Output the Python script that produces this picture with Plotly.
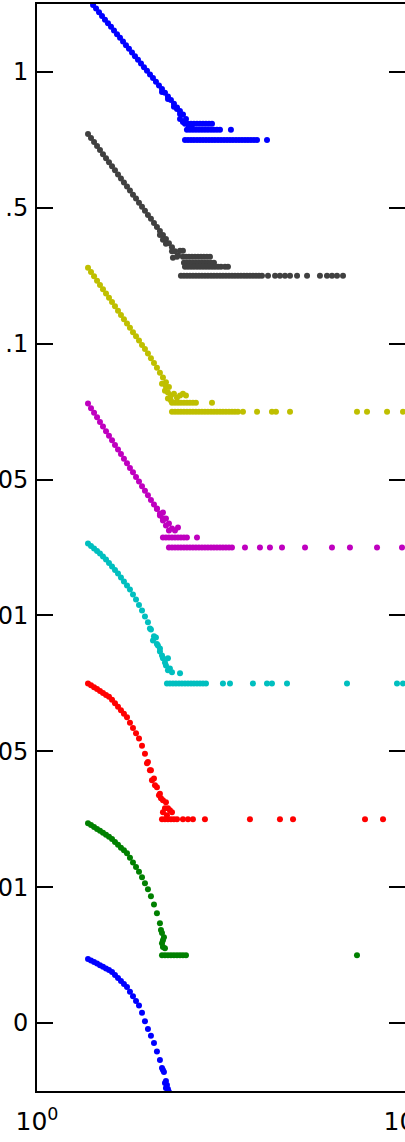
import plotly.graph_objects as go

# shared x sampling of the leading part of each curve
X_START = [1.376, 1.402, 1.429, 1.456, 1.483, 1.511, 1.540, 1.569, 1.599, 1.629,
           1.660, 1.691, 1.723, 1.756, 1.789, 1.823, 1.858, 1.893, 1.929, 1.965,
           2.002, 2.040, 2.079, 2.118, 2.158, 2.199, 2.241, 2.283, 2.327, 2.371, 2.416]

Y_TICKS = [0, 1, 2, 3, 4, 5, 6, 7]
Y_TICK_TEXT = ["0", "01", "05", "01", "05", ".1", ".5", "1"]
X_TICKS = [1, 10]
X_TICK_TEXT = ["10<sup>0</sup>", "10<sup>1</sup>"]

# ---- series 1 (blue, top)
s1_x = [1.420, 1.447, 1.474, 1.502, 1.530, 1.559, 1.589, 1.619, 1.650, 1.681, 1.713,
        1.745, 1.778, 1.812, 1.846, 1.881, 1.917, 1.953, 1.990, 2.028, 2.066, 2.105,
        2.145, 2.186, 2.227, 2.269, 2.312, 2.356, 2.401, 2.446, 2.493,
        2.186, 2.269, 2.356, 2.401, 2.447, 2.447, 2.492, 2.540, 2.588, 2.637]
s1_y = [7.493, 7.466, 7.439, 7.412, 7.385, 7.358, 7.332, 7.305, 7.278, 7.251, 7.224,
        7.197, 7.170, 7.143, 7.116, 7.089, 7.062, 7.035, 7.009, 6.982, 6.955, 6.928,
        6.901, 6.874, 6.847, 6.820, 6.793, 6.766, 6.739, 6.712, 6.686,
        6.853, 6.801, 6.743, 6.728, 6.691, 6.654, 6.632, 6.654, 6.596, 6.610]
s1_rows = {
    6.618: [2.524, 2.572, 2.621, 2.670, 2.721, 2.773, 2.825, 2.879, 2.933, 2.989],
    6.574: [2.555, 2.604, 2.653, 2.703, 2.755, 2.807, 2.860, 2.914, 2.970, 3.026,
            3.083, 3.142, 3.365],
    6.5: [2.524, 2.572, 2.621, 2.670, 2.721, 2.773, 2.825, 2.879, 2.933, 2.989, 3.045,
          3.103, 3.162, 3.222, 3.283, 3.345, 3.408, 3.473, 3.539, 3.606, 3.674, 3.743,
          3.814, 3.887, 3.962, 4.217],
}

# ---- series 2 (dark grey)
s2_y_start = [6.544, 6.514, 6.484, 6.455, 6.425, 6.395, 6.365, 6.336, 6.306, 6.276,
              6.246, 6.216, 6.187, 6.157, 6.127, 6.097, 6.068, 6.038, 6.008, 5.978,
              5.948, 5.919, 5.889, 5.859, 5.829, 5.800, 5.770, 5.740, 5.710, 5.680, 5.651]
s2_x_extra = [2.158, 2.199, 2.241, 2.327, 2.341, 2.401, 2.447, 2.492]
s2_y_extra = [5.800, 5.765, 5.735, 5.680, 5.632, 5.640, 5.684, 5.684]
s2_rows = {
    5.640: [2.492, 2.540, 2.588, 2.637, 2.687, 2.738, 2.790, 2.842, 2.896, 2.952],
    5.596: [2.508, 2.555, 2.604, 2.653, 2.703, 2.755, 2.807, 2.860, 2.914, 2.970, 3.026],
    5.566: [2.524, 2.572, 2.621, 2.670, 2.721, 2.773, 2.825, 2.879, 2.933, 2.989, 3.045,
            3.103, 3.162, 3.242, 3.303],
    5.5: [2.461, 2.508, 2.555, 2.604, 2.653, 2.703, 2.755, 2.807, 2.860, 2.914, 2.970,
          3.026, 3.083, 3.142, 3.201, 3.262, 3.324, 3.387, 3.451, 3.516, 3.583, 3.651,
          3.720, 3.790, 3.862, 3.935, 4.010, 4.086, 4.244, 4.436, 4.573, 4.720, 4.870,
          5.089, 5.418, 5.873, 6.137, 6.332, 6.535, 6.785],
}

# ---- series 3 (olive)
s3_y_start = [5.559, 5.527, 5.496, 5.464, 5.432, 5.401, 5.370, 5.338, 5.307, 5.275,
              5.243, 5.212, 5.180, 5.149, 5.117, 5.085, 5.054, 5.023, 4.991, 4.960,
              4.928, 4.893, 4.857, 4.822, 4.787, 4.751, 4.716, 4.681]
s3_x_extra = [2.186, 2.227, 2.241, 2.269, 2.269, 2.312, 2.312, 2.356, 2.401, 2.447, 2.492, 2.540]
s3_y_extra = [4.706, 4.654, 4.684, 4.640, 4.596, 4.618, 4.581, 4.632, 4.603, 4.618, 4.632, 4.618]
s3_rows = {
    4.566: [2.327, 2.371, 2.416, 2.461, 2.508, 2.555, 2.604, 2.653, 2.703, 2.989],
    4.5: [2.327, 2.371, 2.416, 2.461, 2.508, 2.555, 2.604, 2.653, 2.703, 2.755, 2.807,
          2.860, 2.914, 2.970, 3.026, 3.083, 3.142, 3.201, 3.262, 3.324, 3.387, 3.451,
          3.516, 3.628, 3.962, 4.350, 4.460, 4.870, 7.405, 7.885, 8.937, 9.876],
}

# ---- series 4 (magenta)
s4_y_start = [4.559, 4.525, 4.491, 4.458, 4.424, 4.390, 4.356, 4.323, 4.289, 4.255,
              4.221, 4.188, 4.154, 4.120, 4.086, 4.053, 4.019, 3.985, 3.951, 3.918,
              3.884, 3.850, 3.816, 3.783, 3.749, 3.715]
s4_x_extra = [2.118, 2.158, 2.199, 2.199, 2.241, 2.241, 2.283, 2.283, 2.327, 2.371, 2.416]
s4_y_extra = [3.787, 3.735, 3.757, 3.699, 3.713, 3.662, 3.676, 3.625, 3.640, 3.625, 3.647]
s4_rows = {
    3.574: [2.199, 2.241, 2.283, 2.327, 2.371, 2.416, 2.461, 2.508, 2.555, 2.721],
    3.5: [2.283, 2.327, 2.371, 2.416, 2.461, 2.508, 2.555, 2.604, 2.653, 2.703, 2.755,
          2.807, 2.860, 2.914, 2.970, 3.026, 3.083, 3.142, 3.201, 3.262, 3.324, 3.387,
          3.674, 4.035, 4.295, 4.632, 5.350, 6.332, 7.085, 8.394, 9.814],
}

# ---- series 5 (cyan)
s5_y_start = [3.529, 3.511, 3.493, 3.474, 3.456, 3.434, 3.412, 3.386, 3.360, 3.335,
              3.309, 3.279, 3.250, 3.221, 3.191, 3.154, 3.118, 3.077, 3.037, 2.993,
              2.949, 2.897, 2.846, 2.790, 2.735, 2.684, 2.632]
s5_x_extra = [2.027, 2.066, 2.105, 2.131, 2.158, 2.186, 2.227, 2.269, 2.297, 2.269, 2.327, 2.447]
s5_y_extra = [2.904, 2.816, 2.838, 2.779, 2.757, 2.706, 2.654, 2.684, 2.610, 2.596, 2.581, 2.574]
s5_rows = {
    2.5: [2.255, 2.297, 2.341, 2.385, 2.431, 2.477, 2.524, 2.572, 2.621, 2.670, 2.721,
          2.773, 2.825, 2.879, 3.201, 3.345, 3.862, 4.217, 4.350, 4.779, 6.956, 9.512, 9.876],
}

# ---- series 6 (red)
s6_y_start = [2.500, 2.486, 2.472, 2.458, 2.444, 2.430, 2.415, 2.401, 2.379, 2.353,
              2.328, 2.302, 2.276, 2.250, 2.211, 2.172, 2.133, 2.094, 2.041, 1.982,
              1.922, 1.861, 1.799, 1.735, 1.688, 1.640]
s6_x_extra = [1.990, 2.027, 2.053, 2.092, 2.145, 2.172, 2.227, 2.269, 2.297, 2.199, 2.255, 2.327, 2.241]
s6_y_extra = [1.912, 1.860, 1.787, 1.750, 1.676, 1.654, 1.581, 1.581, 1.566, 1.551, 1.529, 1.551, 1.625]
s6_rows = {
    1.5: [2.186, 2.227, 2.269, 2.312, 2.356, 2.401, 2.492, 2.572, 2.653, 2.860, 3.790,
          4.573, 4.963, 7.786, 8.715],
}

# ---- series 7 (green)
s7_y_start = [1.471, 1.457, 1.443, 1.428, 1.415, 1.401, 1.386, 1.372, 1.354, 1.333,
              1.313, 1.291, 1.271, 1.250, 1.216, 1.182, 1.149, 1.114, 1.074, 1.029,
              0.985, 0.934, 0.872, 0.809, 0.735]
s7_x_extra = [2.172, 2.186, 2.199, 2.213, 2.186, 2.199, 2.227]
s7_y_extra = [0.684, 0.662, 0.610, 0.632, 0.588, 0.559, 0.551]
s7_rows = {
    0.5: [2.186, 2.227, 2.269, 2.312, 2.356, 2.401, 2.447, 2.492, 2.540, 7.405],
}

# ---- series 8 (blue, bottom)
s8_y_start = [0.471, 0.460, 0.449, 0.438, 0.426, 0.415, 0.401, 0.390, 0.375, 0.353,
              0.331, 0.309, 0.287, 0.265, 0.231, 0.197, 0.163, 0.129, 0.076, 0.013,
              -0.044, -0.093, -0.147, -0.209, -0.272, -0.346, -0.426]
s8_x_extra = [2.255, 2.269, 2.283, 2.186, 2.213, 2.227, 2.241]
s8_y_extra = [-0.456, -0.485, -0.505, -0.331, -0.360, -0.441, -0.478]
s8_rows = {}

COLORS = ["#0000FF", "#404040", "#BFBF00", "#BF00BF", "#00BFBF", "#FF0000", "#008000", "#0000FF"]


def assemble(x_pts, y_pts, rows):
    xs = list(x_pts)
    ys = list(y_pts)
    for level, row_x in rows.items():
        xs += row_x
        ys += [level] * len(row_x)
    return xs, ys


series = [
    assemble(s1_x, s1_y, s1_rows),
    assemble(X_START[:len(s2_y_start)] + s2_x_extra, s2_y_start + s2_y_extra, s2_rows),
    assemble(X_START[:len(s3_y_start)] + s3_x_extra, s3_y_start + s3_y_extra, s3_rows),
    assemble(X_START[:len(s4_y_start)] + s4_x_extra, s4_y_start + s4_y_extra, s4_rows),
    assemble(X_START[:len(s5_y_start)] + s5_x_extra, s5_y_start + s5_y_extra, s5_rows),
    assemble(X_START[:len(s6_y_start)] + s6_x_extra, s6_y_start + s6_y_extra, s6_rows),
    assemble(X_START[:len(s7_y_start)] + s7_x_extra, s7_y_start + s7_y_extra, s7_rows),
    assemble(X_START[:len(s8_y_start)] + s8_x_extra, s8_y_start + s8_y_extra, s8_rows),
]

fig = go.Figure()
for (xs, ys), col in zip(series, COLORS):
    fig.add_trace(go.Scatter(
        x=xs, y=ys, mode="markers",
        marker=dict(color=col, size=6, symbol="circle", line=dict(width=0)),
        showlegend=False, hoverinfo="skip",
    ))

FONT = "DejaVu Sans, Liberation Sans, Arial, sans-serif"

fig.update_layout(
    template="none",
    width=405, height=1142,
    margin=dict(l=37, r=0, t=4, b=51, pad=0),
    paper_bgcolor="white", plot_bgcolor="white",
    font=dict(family=FONT, size=25, color="black"),
    showlegend=False,
)
fig.update_xaxes(
    type="log", range=[0, 1],
    tickmode="array", tickvals=X_TICKS, ticktext=X_TICK_TEXT,
    ticks="", showgrid=False, zeroline=False,
    showline=True, linecolor="black", linewidth=2, mirror=True,
    tickfont=dict(family=FONT, size=25, color="black"),
    automargin=False, ticklabelstandoff=7, ticklabeloverflow="allow",
)
fig.update_yaxes(
    range=[-0.5, 7.5],
    tickmode="array", tickvals=Y_TICKS, ticktext=Y_TICK_TEXT,
    ticks="inside", ticklen=16, tickwidth=2, tickcolor="black",
    showgrid=False, zeroline=False,
    showline=True, linecolor="black", linewidth=2, mirror="ticks",
    tickfont=dict(family=FONT, size=24, color="black"),
    automargin=False, ticklabelstandoff=2, ticklabeloverflow="allow",
)

fig.write_html("out.html")
